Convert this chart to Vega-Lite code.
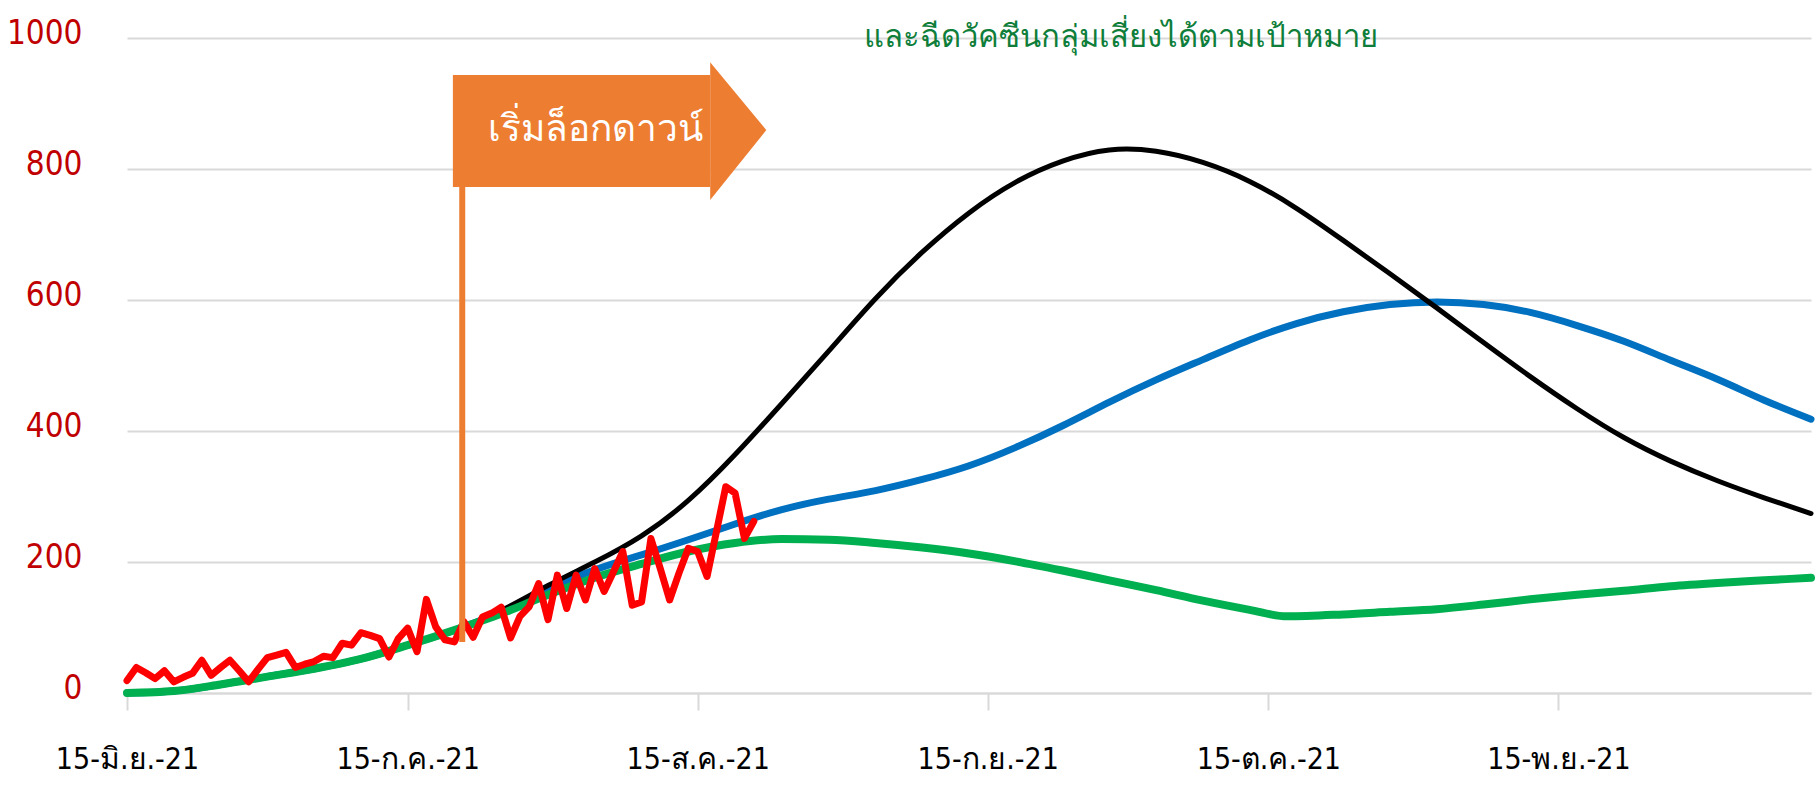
{
  "$schema": "https://vega.github.io/schema/vega-lite/v6.json",
  "width": 1684,
  "height": 655,
  "autosize": {"type": "none"},
  "padding": {"left": 127, "top": 38, "right": 5, "bottom": 92},
  "background": "white",
  "config": {
    "view": {"stroke": null},
    "font": "DejaVu Sans Condensed, Liberation Sans Narrow, Liberation Sans, sans-serif"
  },
  "datasets": {
    "green": [
      {"d": "2021-06-15", "v": 0}, {"d": "2021-06-20", "v": 3}, {"d": "2021-06-25", "v": 13},
      {"d": "2021-06-30", "v": 25}, {"d": "2021-07-05", "v": 37}, {"d": "2021-07-10", "v": 52},
      {"d": "2021-07-15", "v": 73}, {"d": "2021-07-20", "v": 96}, {"d": "2021-07-25", "v": 121},
      {"d": "2021-07-30", "v": 150}, {"d": "2021-08-04", "v": 176}, {"d": "2021-08-09", "v": 197},
      {"d": "2021-08-14", "v": 216}, {"d": "2021-08-19", "v": 229}, {"d": "2021-08-24", "v": 235},
      {"d": "2021-08-29", "v": 234}, {"d": "2021-09-03", "v": 229}, {"d": "2021-09-08", "v": 222},
      {"d": "2021-09-13", "v": 213}, {"d": "2021-09-18", "v": 201}, {"d": "2021-09-23", "v": 187},
      {"d": "2021-09-28", "v": 172}, {"d": "2021-10-03", "v": 157}, {"d": "2021-10-08", "v": 141},
      {"d": "2021-10-13", "v": 127}, {"d": "2021-10-17", "v": 117}, {"d": "2021-10-23", "v": 120},
      {"d": "2021-10-28", "v": 124}, {"d": "2021-11-02", "v": 128}, {"d": "2021-11-07", "v": 135},
      {"d": "2021-11-12", "v": 143}, {"d": "2021-11-17", "v": 150}, {"d": "2021-11-22", "v": 156},
      {"d": "2021-11-27", "v": 163}, {"d": "2021-12-02", "v": 168}, {"d": "2021-12-07", "v": 172},
      {"d": "2021-12-12", "v": 176}
    ],
    "blue": [
      {"d": "2021-06-15", "v": 0}, {"d": "2021-06-20", "v": 3}, {"d": "2021-06-25", "v": 13},
      {"d": "2021-06-30", "v": 25}, {"d": "2021-07-05", "v": 37}, {"d": "2021-07-10", "v": 52},
      {"d": "2021-07-15", "v": 73}, {"d": "2021-07-20", "v": 96}, {"d": "2021-07-25", "v": 124},
      {"d": "2021-07-30", "v": 158}, {"d": "2021-08-04", "v": 188}, {"d": "2021-08-09", "v": 211},
      {"d": "2021-08-14", "v": 234}, {"d": "2021-08-19", "v": 258}, {"d": "2021-08-24", "v": 280},
      {"d": "2021-08-29", "v": 296}, {"d": "2021-09-03", "v": 309}, {"d": "2021-09-08", "v": 326},
      {"d": "2021-09-13", "v": 347}, {"d": "2021-09-18", "v": 375}, {"d": "2021-09-23", "v": 408},
      {"d": "2021-09-28", "v": 444}, {"d": "2021-10-03", "v": 478}, {"d": "2021-10-08", "v": 509},
      {"d": "2021-10-13", "v": 539}, {"d": "2021-10-18", "v": 564}, {"d": "2021-10-23", "v": 582},
      {"d": "2021-10-28", "v": 593}, {"d": "2021-11-02", "v": 597}, {"d": "2021-11-07", "v": 593},
      {"d": "2021-11-12", "v": 581}, {"d": "2021-11-17", "v": 561}, {"d": "2021-11-22", "v": 537},
      {"d": "2021-11-27", "v": 508}, {"d": "2021-12-02", "v": 479}, {"d": "2021-12-07", "v": 447},
      {"d": "2021-12-12", "v": 418}
    ],
    "black": [
      {"d": "2021-06-15", "v": 0}, {"d": "2021-06-20", "v": 3}, {"d": "2021-06-25", "v": 13},
      {"d": "2021-06-30", "v": 25}, {"d": "2021-07-05", "v": 37}, {"d": "2021-07-10", "v": 52},
      {"d": "2021-07-15", "v": 73}, {"d": "2021-07-20", "v": 96}, {"d": "2021-07-25", "v": 126},
      {"d": "2021-07-30", "v": 164}, {"d": "2021-08-04", "v": 200}, {"d": "2021-08-09", "v": 240},
      {"d": "2021-08-14", "v": 294}, {"d": "2021-08-19", "v": 364}, {"d": "2021-08-24", "v": 442},
      {"d": "2021-08-29", "v": 522}, {"d": "2021-09-03", "v": 602}, {"d": "2021-09-08", "v": 673},
      {"d": "2021-09-13", "v": 733}, {"d": "2021-09-18", "v": 780}, {"d": "2021-09-23", "v": 812},
      {"d": "2021-09-28", "v": 829}, {"d": "2021-10-03", "v": 827}, {"d": "2021-10-08", "v": 810},
      {"d": "2021-10-13", "v": 781}, {"d": "2021-10-18", "v": 740}, {"d": "2021-10-23", "v": 691},
      {"d": "2021-10-28", "v": 640}, {"d": "2021-11-02", "v": 588}, {"d": "2021-11-07", "v": 535},
      {"d": "2021-11-12", "v": 483}, {"d": "2021-11-17", "v": 434}, {"d": "2021-11-22", "v": 390},
      {"d": "2021-11-27", "v": 354}, {"d": "2021-12-02", "v": 324}, {"d": "2021-12-07", "v": 298},
      {"d": "2021-12-12", "v": 274}
    ],
    "red": [
      {"d": "2021-06-15", "v": 19}, {"d": "2021-06-16", "v": 39}, {"d": "2021-06-17", "v": 31},
      {"d": "2021-06-18", "v": 22}, {"d": "2021-06-19", "v": 34}, {"d": "2021-06-20", "v": 17},
      {"d": "2021-06-21", "v": 24}, {"d": "2021-06-22", "v": 30}, {"d": "2021-06-23", "v": 50},
      {"d": "2021-06-24", "v": 27}, {"d": "2021-06-25", "v": 39}, {"d": "2021-06-26", "v": 50},
      {"d": "2021-06-27", "v": 34}, {"d": "2021-06-28", "v": 17}, {"d": "2021-06-29", "v": 36},
      {"d": "2021-06-30", "v": 54}, {"d": "2021-07-01", "v": 58}, {"d": "2021-07-02", "v": 62},
      {"d": "2021-07-03", "v": 39}, {"d": "2021-07-04", "v": 44}, {"d": "2021-07-05", "v": 48},
      {"d": "2021-07-06", "v": 56}, {"d": "2021-07-07", "v": 54}, {"d": "2021-07-08", "v": 76},
      {"d": "2021-07-09", "v": 73}, {"d": "2021-07-10", "v": 92}, {"d": "2021-07-11", "v": 88},
      {"d": "2021-07-12", "v": 83}, {"d": "2021-07-13", "v": 55}, {"d": "2021-07-14", "v": 83},
      {"d": "2021-07-15", "v": 99}, {"d": "2021-07-16", "v": 63}, {"d": "2021-07-17", "v": 143},
      {"d": "2021-07-18", "v": 101}, {"d": "2021-07-19", "v": 81}, {"d": "2021-07-20", "v": 78},
      {"d": "2021-07-21", "v": 109}, {"d": "2021-07-22", "v": 85}, {"d": "2021-07-23", "v": 116},
      {"d": "2021-07-24", "v": 122}, {"d": "2021-07-25", "v": 131}, {"d": "2021-07-26", "v": 84},
      {"d": "2021-07-27", "v": 117}, {"d": "2021-07-28", "v": 132}, {"d": "2021-07-29", "v": 167},
      {"d": "2021-07-30", "v": 112}, {"d": "2021-07-31", "v": 180}, {"d": "2021-08-01", "v": 129},
      {"d": "2021-08-02", "v": 180}, {"d": "2021-08-03", "v": 142}, {"d": "2021-08-04", "v": 190},
      {"d": "2021-08-05", "v": 155}, {"d": "2021-08-06", "v": 185}, {"d": "2021-08-07", "v": 216},
      {"d": "2021-08-08", "v": 134}, {"d": "2021-08-09", "v": 139}, {"d": "2021-08-10", "v": 236},
      {"d": "2021-08-11", "v": 190}, {"d": "2021-08-12", "v": 142}, {"d": "2021-08-13", "v": 183},
      {"d": "2021-08-14", "v": 221}, {"d": "2021-08-15", "v": 216}, {"d": "2021-08-16", "v": 178},
      {"d": "2021-08-17", "v": 246}, {"d": "2021-08-18", "v": 315}, {"d": "2021-08-19", "v": 305},
      {"d": "2021-08-20", "v": 236}, {"d": "2021-08-21", "v": 262}
    ],
    "pole": [{"d": "2021-07-20T20:00:00Z", "lo": 78, "hi": 943}],
    "flagBody": [{"a": "2021-07-19T20:00:00Z", "b": "2021-08-16T08:00:00Z", "lo": 772.5, "hi": 943.5}],
    "flagHead": [
      {"d": "2021-08-16T08:00:00Z", "lo": 752.7, "hi": 963},
      {"d": "2021-08-22T08:00:00Z", "lo": 859.5, "hi": 859.5}
    ],
    "flagText": [{"d": "2021-08-04T01:00:00Z", "v": 860, "label": "เริ่มล็อกดาวน์"}],
    "note": [{"d": "2021-09-29T05:00:00Z", "v": 1000, "label": "และฉีดวัคซีนกลุ่มเสี่ยงได้ตามเป้าหมาย"}]
  },
  "layer": [
    {
      "data": {"name": "blue"},
      "mark": {"type": "line", "color": "#0070C0", "strokeWidth": 7, "interpolate": "natural", "strokeCap": "round"},
      "encoding": {
        "x": {
          "field": "d", "type": "temporal", "title": null,
          "scale": {"type": "utc", "domain": [{"year": 2021, "month": 6, "date": 15, "utc": true}, {"year": 2021, "month": 12, "date": 12, "utc": true}]},
          "axis": {
            "values": [
              {"year": 2021, "month": 6, "date": 15, "utc": true},
              {"year": 2021, "month": 7, "date": 15, "utc": true},
              {"year": 2021, "month": 8, "date": 15, "utc": true},
              {"year": 2021, "month": 9, "date": 15, "utc": true},
              {"year": 2021, "month": 10, "date": 15, "utc": true},
              {"year": 2021, "month": 11, "date": 15, "utc": true}
            ],
            "labelExpr": "'15-' + ['ม.ค.','ก.พ.','มี.ค.','เม.ย.','พ.ค.','มิ.ย.','ก.ค.','ส.ค.','ก.ย.','ต.ค.','พ.ย.','ธ.ค.'][utcmonth(datum.value)] + '-21'",
            "grid": false,
            "domain": true, "domainColor": "#D9D9D9", "domainWidth": 2,
            "ticks": true, "tickColor": "#D9D9D9", "tickWidth": 2, "tickSize": 17,
            "labelColor": "#000000", "labelFontSize": 30, "labelPadding": 58,
            "labelBaseline": "alphabetic", "labelAlign": "center", "labelFlush": false, "labelOverlap": false
          }
        },
        "y": {
          "field": "v", "type": "quantitative", "title": null,
          "scale": {"domain": [0, 1000], "nice": false},
          "axis": {
            "values": [0, 200, 400, 600, 800, 1000],
            "format": "d",
            "grid": true, "gridColor": "#D9D9D9", "gridWidth": 2,
            "domain": false, "ticks": false,
            "labelColor": "#C00000", "labelFontSize": 33, "labelPadding": 45,
            "labelOffset": -5, "labelFlush": false
          }
        }
      }
    },
    {
      "data": {"name": "black"},
      "mark": {"type": "line", "color": "#000000", "strokeWidth": 5, "interpolate": "natural", "strokeCap": "round"},
      "encoding": {"x": {"field": "d", "type": "temporal"}, "y": {"field": "v", "type": "quantitative"}}
    },
    {
      "data": {"name": "green"},
      "mark": {"type": "line", "color": "#00B050", "strokeWidth": 8, "interpolate": "monotone", "strokeCap": "round"},
      "encoding": {"x": {"field": "d", "type": "temporal"}, "y": {"field": "v", "type": "quantitative"}}
    },
    {
      "data": {"name": "red"},
      "mark": {"type": "line", "color": "#FF0000", "strokeWidth": 7, "strokeJoin": "round", "strokeCap": "round"},
      "encoding": {"x": {"field": "d", "type": "temporal"}, "y": {"field": "v", "type": "quantitative"}}
    },
    {
      "data": {"name": "pole"},
      "mark": {"type": "rule", "color": "#ED7D31", "strokeWidth": 6},
      "encoding": {"x": {"field": "d", "type": "temporal"}, "y": {"field": "lo", "type": "quantitative"}, "y2": {"field": "hi"}}
    },
    {
      "data": {"name": "flagBody"},
      "mark": {"type": "rect", "color": "#ED7D31"},
      "encoding": {"x": {"field": "a", "type": "temporal"}, "x2": {"field": "b"}, "y": {"field": "lo", "type": "quantitative"}, "y2": {"field": "hi"}}
    },
    {
      "data": {"name": "flagHead"},
      "mark": {"type": "area", "color": "#ED7D31", "interpolate": "linear"},
      "encoding": {"x": {"field": "d", "type": "temporal"}, "y": {"field": "lo", "type": "quantitative"}, "y2": {"field": "hi"}}
    },
    {
      "data": {"name": "flagText"},
      "mark": {"type": "text", "color": "#FFFFFF", "fontSize": 37, "align": "center", "baseline": "middle"},
      "encoding": {"x": {"field": "d", "type": "temporal"}, "y": {"field": "v", "type": "quantitative"}, "text": {"field": "label"}}
    },
    {
      "data": {"name": "note"},
      "mark": {"type": "text", "color": "#0E7E3A", "fontSize": 31, "align": "center", "baseline": "middle"},
      "encoding": {"x": {"field": "d", "type": "temporal"}, "y": {"field": "v", "type": "quantitative"}, "text": {"field": "label"}}
    }
  ]
}
